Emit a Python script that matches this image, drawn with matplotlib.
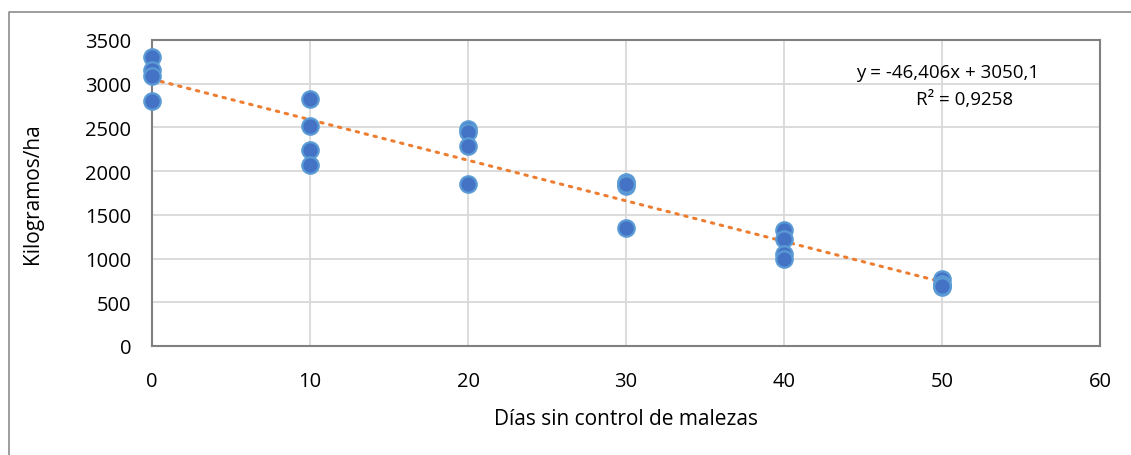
import numpy as np
import matplotlib.pyplot as plt
from matplotlib.lines import Line2D

# datos
dias = [0, 0, 0, 0,
        10, 10, 10, 10,
        20, 20, 20, 20,
        30, 30, 30, 30,
        40, 40, 40, 40,
        50, 50, 50, 50]
kg_ha = [3309, 3160, 3092, 2799,
         2825, 2513, 2245, 2074,
         2482, 2444, 2291, 1850,
         1872, 1834, 1346, 1850,
         1330, 1224, 1052, 995,
         766, 709, 671, 690]
xticks = [0, 10, 20, 30, 40, 50, 60]
yticks = [0, 500, 1000, 1500, 2000, 2500, 3000, 3500]
ecuacion = "y = -46,406x + 3050,1"
r2 = "R² = 0,9258"

plt.rcParams['font.family'] = ['Open Sans', 'DejaVu Sans']

W, H = 1131, 456
fig = plt.figure(figsize=(W / 100, H / 100), dpi=100)
# marco exterior (solo borde izquierdo y superior visibles)
bx, by = 8.5 / W, 1 - 12.5 / H
fig.lines.append(Line2D([bx, bx, 1.0], [0.0, by, by], transform=fig.transFigure,
                        color='#8c8c8c', lw=1.2))
ax = fig.add_axes([152 / W, 1 - 347 / H, (1100 - 152) / W, (347 - 41) / H])

x = np.array(dias, dtype=float)
y = np.array(kg_ha, dtype=float)
m, b = np.polyfit(x, y, 1)
xl = np.linspace(0, 50, 2)
ax.plot(xl, m * xl + b, color='#ed7d31', lw=2.2, ls=(0, (0.8, 2.2)),
        dash_capstyle='round', zorder=3)
ax.scatter(x, y, s=140, color='#4472c4', edgecolor='#5b9bd5', linewidth=1.6,
           zorder=4, clip_on=False)

ax.set_xlim(0, 60)
ax.set_ylim(0, 3500)
ax.set_xticks(xticks)
ax.set_yticks(yticks)
ax.grid(True, color='#d9d9d9', lw=1.3)
ax.set_axisbelow(True)
for s in ax.spines.values():
    s.set_color('#808080')
    s.set_linewidth(1.5)
ax.tick_params(axis='y', length=0, labelsize=14.5, pad=15)
ax.tick_params(axis='x', length=0, labelsize=14.5, pad=18)

ax.set_xlabel("Días sin control de malezas", fontsize=15, labelpad=12)
ax.set_ylabel("Kilogramos/ha", fontsize=15, labelpad=30)

ax.text(948 / W, 1 - 73 / H, ecuacion, transform=fig.transFigure,
        ha='center', va='center', fontsize=13.5)
ax.text(965 / W, 1 - 100 / H, r2, transform=fig.transFigure,
        ha='center', va='center', fontsize=13.5)

fig.savefig("out.png", dpi=100)
